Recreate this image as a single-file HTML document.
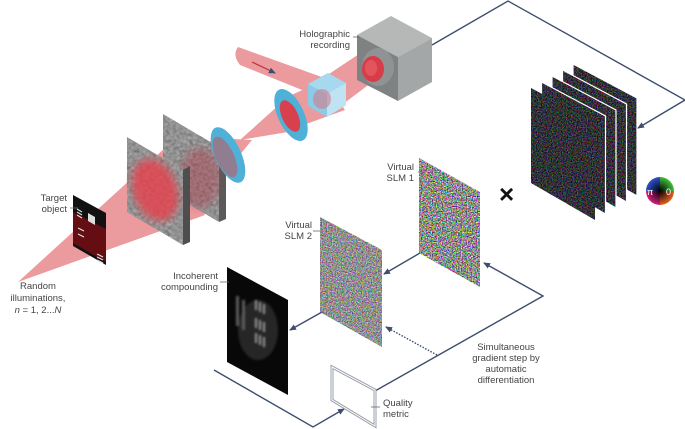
<!DOCTYPE html>
<html><head><meta charset="utf-8"><style>
html,body{margin:0;padding:0;background:#fff;}
svg{display:block;font-family:"Liberation Sans",sans-serif;}
text{font-size:9.5px;fill:#444;}
filter{color-interpolation-filters:sRGB;}
</style></head><body>
<svg width="685" height="429" viewBox="0 0 685 429" xmlns="http://www.w3.org/2000/svg">
<defs>
<filter id="cnoise" x="0" y="0" width="100%" height="100%" color-interpolation-filters="sRGB">
<feTurbulence type="fractalNoise" baseFrequency="0.8" numOctaves="1" seed="3" result="t"/>
<feColorMatrix in="t" type="matrix" values="2.2 0 0 0 -0.55  0 2.2 0 0 -0.55  0 0 2.2 0 -0.55  0 0 0 0 1"/>
</filter>
<filter id="dnoise" x="0" y="0" width="100%" height="100%" color-interpolation-filters="sRGB">
<feTurbulence type="fractalNoise" baseFrequency="0.8" numOctaves="1" seed="7" result="t"/>
<feColorMatrix in="t" type="matrix" values="1.1 0 0 0 -0.36  0 1.1 0 0 -0.36  0 0 1.1 0 -0.33  0 0 0 0 1"/>
</filter>
<filter id="gnoise" x="0" y="0" width="100%" height="100%" color-interpolation-filters="sRGB">
<feTurbulence type="fractalNoise" baseFrequency="0.3" numOctaves="3" seed="2" result="t"/>
<feColorMatrix in="t" type="matrix" values="0.18 0.18 0.18 0 0.3  0.18 0.18 0.18 0 0.3  0.18 0.18 0.18 0 0.3  0 0 0 0 1"/>
</filter>
<filter id="blur4"><feGaussianBlur stdDeviation="4"/></filter>
<filter id="blur2"><feGaussianBlur stdDeviation="1"/></filter>
<clipPath id="slm1"><polygon points="419,158 480,192 480,287 419,253"/></clipPath>
<clipPath id="slm2"><polygon points="320,217 382,250 382,347 320,312"/></clipPath>
<clipPath id="s1"><polygon points="127,137 183,170 183,245 127,212"/></clipPath>
<clipPath id="s2"><polygon points="163,114 219,147 219,222 163,189"/></clipPath>
<radialGradient id="wheel" cx="50%" cy="50%" r="50%">
<stop offset="0" stop-color="#000"/><stop offset="1" stop-color="#000" stop-opacity="0"/>
</radialGradient>
<marker id="ah" markerWidth="8" markerHeight="8" refX="6" refY="4" orient="auto" markerUnits="userSpaceOnUse"><path d="M0,1 L7,4 L0,7 Z" fill="#3d4d6e"/></marker>
</defs>

<!-- beams -->
<g fill="#e8898c" opacity="0.85">
<polygon points="18,282 165,148 205,215"/>
<polygon points="190,155 215,138 252,140 215,185"/>
<polygon points="240,140 290,95 300,130"/>
<polygon points="280,100 325,80 345,110 295,128"/>
<polygon points="320,80 365,50 375,80 335,110"/>
<path d="M238,47 Q232,55 240,65 L322,98 L330,80 Z"/>
</g>
<line x1="252" y1="62" x2="275" y2="73" stroke="#c0303a" stroke-width="1.2" marker-end="url(#ah)"/>

<!-- slabs back -->
<polygon points="219,147 226,143 226,219 219,222" fill="#5a5a5a"/>
<g clip-path="url(#s2)"><rect x="160" y="110" width="62" height="115" filter="url(#gnoise)"/></g>
<ellipse cx="200" cy="178" rx="20" ry="30" fill="#b04050" opacity="0.45" filter="url(#blur4)"/>
<!-- lens1 -->
<ellipse cx="228" cy="155" rx="13" ry="30" transform="rotate(-25 228 155)" fill="#4fb0d8"/>
<ellipse cx="225" cy="157" rx="9" ry="22" transform="rotate(-25 225 157)" fill="#a07080" opacity="0.8"/>
<!-- slab front -->
<polygon points="183,170 190,166 190,242 183,245" fill="#4e4e4e"/>
<g clip-path="url(#s1)"><rect x="125" y="130" width="62" height="118" filter="url(#gnoise)"/></g>
<ellipse cx="155" cy="190" rx="22" ry="32" transform="rotate(-20 155 190)" fill="#e8404c" opacity="0.8" filter="url(#blur4)"/>

<!-- lens2 -->
<ellipse cx="291" cy="115" rx="13" ry="28" transform="rotate(-25 291 115)" fill="#4fb0d8"/>
<ellipse cx="290" cy="116" rx="8" ry="17" transform="rotate(-25 290 116)" fill="#d8404e"/>
<!-- cube -->
<polygon points="308,84 328,73 346,83 346,105 327,117 308,106" fill="#8ccbe6"/>
<polygon points="308,84 328,73 346,83 327,94" fill="#a6d9ee"/>
<polygon points="327,94 346,83 346,105 327,117" fill="#bfe3f2"/>
<ellipse cx="322" cy="99" rx="9" ry="10" fill="#d27a8a" opacity="0.6"/>

<!-- camera -->
<polygon points="357,35 391,16 432,38 398,57" fill="#b6b8b8"/>
<polygon points="357,35 398,57 398,101 357,80" fill="#7e8282"/>
<polygon points="398,57 432,38 432,82 398,101" fill="#a4a7a7"/>
<ellipse cx="378" cy="67" rx="16" ry="19" fill="#8f9393"/>
<ellipse cx="373" cy="69" rx="11" ry="13" fill="#d83c48"/>
<ellipse cx="371" cy="68" rx="6" ry="8" fill="#e86068" opacity="0.7"/>

<!-- target object -->
<polygon points="73,195 106,213 106,265 73,246" fill="#111"/>
<polygon points="73,212 106,229 106,262 73,243" fill="#6e0d14" opacity="0.9"/>
<g stroke="#ddd" stroke-width="1.2">
<line x1="77" y1="209" x2="82" y2="212"/><line x1="77" y1="212" x2="82" y2="215"/><line x1="77" y1="215" x2="82" y2="218"/>
<line x1="78" y1="228" x2="84" y2="231"/><line x1="78" y1="234" x2="84" y2="237"/>
<line x1="97" y1="254" x2="103" y2="257"/><line x1="97" y1="257" x2="103" y2="260"/><line x1="97" y1="260" x2="103" y2="263"/>
</g>
<polygon points="88,213 95,217 95,225 88,221" fill="#ddd"/>

<!-- stack of frames -->
<g stroke="#fff" stroke-width="1.2">
<clipPath id="f5"><polygon points="573,64 637,98 637,196 573,159"/></clipPath>
<rect x="570" y="60" width="70" height="140" filter="url(#dnoise)" clip-path="url(#f5)" stroke="none"/>
<polygon points="573,64 637,98 637,196 573,159" fill="none"/>
<clipPath id="f4"><polygon points="562.5,70 626.5,104 626.5,202 562.5,165"/></clipPath>
<rect x="560" y="66" width="70" height="140" filter="url(#dnoise)" clip-path="url(#f4)" stroke="none"/>
<polygon points="562.5,70 626.5,104 626.5,202 562.5,165" fill="none"/>
<clipPath id="f3"><polygon points="552,76 616,110 616,208 552,171"/></clipPath>
<rect x="550" y="72" width="70" height="140" filter="url(#dnoise)" clip-path="url(#f3)" stroke="none"/>
<polygon points="552,76 616,110 616,208 552,171" fill="none"/>
<clipPath id="f2"><polygon points="541.5,82 605.5,116 605.5,214 541.5,177"/></clipPath>
<rect x="540" y="78" width="70" height="140" filter="url(#dnoise)" clip-path="url(#f2)" stroke="none"/>
<polygon points="541.5,82 605.5,116 605.5,214 541.5,177" fill="none"/>
<clipPath id="f1"><polygon points="531,88 595,122 595,220 531,183"/></clipPath>
<rect x="528" y="84" width="70" height="140" filter="url(#dnoise)" clip-path="url(#f1)" stroke="none"/>
</g>

<!-- color wheel -->
<circle cx="660" cy="191" r="14" fill="#f0e020"/>
<path d="M660,191 L674,191 A14,14 0 0 0 660,177 Z" fill="#40c040"/>
<path d="M660,191 L660,177 A14,14 0 0 0 646,191 Z" fill="#3050d0"/>
<path d="M660,191 L646,191 A14,14 0 0 0 660,205 Z" fill="#d02080"/>
<path d="M660,191 L660,205 A14,14 0 0 0 674,191 Z" fill="#e86020"/>
<circle cx="660" cy="191" r="14" fill="url(#wheel)"/>
<text x="647" y="195" style="fill:#fff;font-size:9px">π</text>
<text x="666" y="195" style="fill:#fff;font-size:9px">0</text>
<text x="499" y="203" style="font-size:26px;fill:#111;font-weight:bold">×</text>

<!-- SLMs -->
<g clip-path="url(#slm1)"><rect x="415" y="155" width="70" height="135" filter="url(#cnoise)"/></g>
<g clip-path="url(#slm2)"><rect x="316" y="214" width="70" height="135" filter="url(#cnoise)"/></g>
<rect x="316" y="214" width="70" height="135" fill="#999" opacity="0.35" clip-path="url(#slm2)"/>

<!-- incoherent -->
<polygon points="227,267 288,300 288,395 227,362" fill="#080808"/>
<g fill="#aaa" filter="url(#blur2)" opacity="0.9">
<ellipse cx="258" cy="330" rx="20" ry="30" fill="#2a2a2a"/>
<rect x="255" y="300" width="2" height="10"/><rect x="259" y="302" width="2" height="10"/><rect x="263" y="304" width="2" height="10"/>
<rect x="255" y="318" width="2" height="10"/><rect x="259" y="320" width="2" height="10"/><rect x="263" y="322" width="2" height="10"/>
<rect x="255" y="333" width="2" height="10"/><rect x="259" y="335" width="2" height="10"/><rect x="263" y="337" width="2" height="10"/>
<rect x="236" y="296" width="3" height="30" fill="#666"/><rect x="242" y="300" width="3" height="30" fill="#666"/>
</g>

<!-- connectors -->
<g stroke="#3d4d6e" stroke-width="1.4" fill="none">
<polyline points="432,45 508,1 685,100 638,128" marker-end="url(#ah)"/>
<line x1="420" y1="253" x2="384" y2="274" marker-end="url(#ah)"/>
<line x1="322" y1="312" x2="290" y2="330" marker-end="url(#ah)"/>
<line x1="437" y1="355" x2="386" y2="327" stroke-dasharray="1.5,1.5" marker-end="url(#ah)"/>
<polyline points="214,370 313,427 344,409" marker-end="url(#ah)"/>
<polyline points="375,391 543,296 484,263" marker-end="url(#ah)"/>
</g>
<!-- quality metric -->
<polygon points="332,367 375,390 375,426 332,400" fill="none" stroke="#9aa0ac" stroke-width="3"/>
<polygon points="332,367 375,390 375,426 332,400" fill="none" stroke="#fff" stroke-width="1"/>

<!-- label ticks -->
<g stroke="#666" stroke-width="0.8">
<line x1="353" y1="37" x2="360" y2="37"/>
<line x1="418" y1="172" x2="425" y2="172"/>
<line x1="313" y1="231" x2="322" y2="231"/>
<line x1="220" y1="282" x2="229" y2="282"/>
<line x1="70" y1="208" x2="78" y2="208"/>
<line x1="371" y1="407" x2="380" y2="407"/>
</g>

<!-- labels -->
<g text-anchor="end">
<text x="350" y="37">Holographic</text><text x="350" y="48">recording</text>
<text x="414" y="170">Virtual</text><text x="414" y="181">SLM 1</text>
<text x="312" y="228">Virtual</text><text x="312" y="239">SLM 2</text>
<text x="218" y="279">Incoherent</text><text x="218" y="290">compounding</text>
<text x="67" y="201">Target</text><text x="67" y="212">object</text>
</g>
<g text-anchor="middle">
<text x="38" y="289">Random</text><text x="38" y="301">illuminations,</text>
<text x="38" y="313"><tspan font-style="italic">n</tspan> = 1, 2...<tspan font-style="italic">N</tspan></text>
<text x="506" y="350">Simultaneous</text><text x="506" y="361">gradient step by</text>
<text x="506" y="372">automatic</text><text x="506" y="383">differentiation</text>
</g>
<text x="383" y="406">Quality</text><text x="383" y="417">metric</text>
</svg>
</body></html>
